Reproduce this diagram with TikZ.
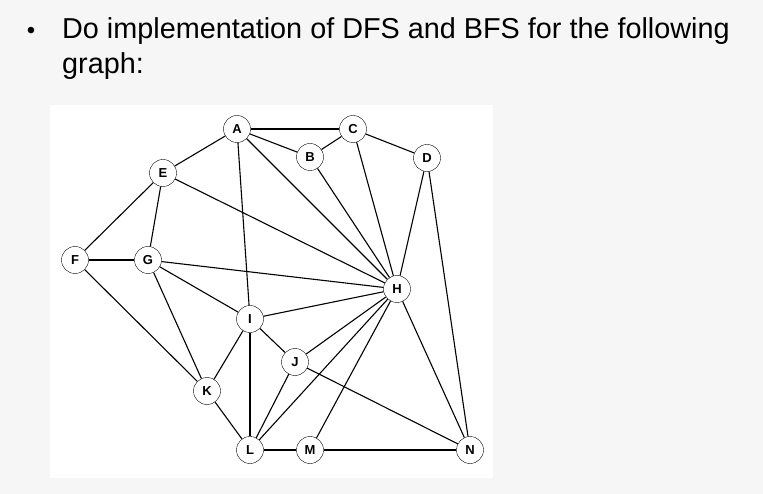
\documentclass[tikz,border=0pt]{standalone}
\usepackage{fontspec}
\setmainfont{Liberation Sans}
\usepackage{tikz}
\tikzset{vertex/.style={draw,circle,fill=white,inner sep=0pt,minimum size=27pt,font=\fontsize{13}{14}\selectfont\bfseries}}

\begin{document}
\begin{tikzpicture}[x=1pt,y=-1pt]
	% Background and white panel:
	\fill[gray!7] (0,0) rectangle (763,494);
	\useasboundingbox (0,0) rectangle (763,494);
	\fill[white] (50,105) rectangle (493,478);
	
	% Heading:
	\node (bullet) at (31,33) {\fontsize{24}{28}\selectfont •};
	\node[anchor=west,align=left,inner sep=0pt,font=\fontsize{28.8}{35}\selectfont] (title) at (62,49)
	{Do implementation of DFS and BFS for the following\\graph:};
	
	% Vertices:
	\node[vertex] (A) at (237,129) {A};
	\node[vertex] (B) at (310,157) {B};
	\node[vertex] (C) at (353,129) {C};
	\node[vertex] (D) at (427,158) {D};
	\node[vertex] (E) at (163,173) {E};
	\node[vertex] (F) at (75,260) {F};
	\node[vertex] (G) at (148,260) {G};
	\node[vertex] (H) at (397,289) {H};
	\node[vertex] (I) at (250,319) {I};
	\node[vertex] (J) at (295,362) {J};
	\node[vertex] (K) at (207,391) {K};
	\node[vertex] (L) at (250,450) {L};
	\node[vertex] (M) at (310,450) {M};
	\node[vertex] (N) at (470,450) {N};
	
	% Edges:
	\foreach \a/\b in {A/C,A/B,A/E,A/H,A/I,B/C,B/H,C/D,C/H,D/H,D/N,E/F,E/G,E/H,F/G,F/K,
		G/H,G/I,G/K,H/I,H/J,H/L,H/M,H/N,I/J,I/K,I/L,J/L,J/N,K/L,L/M,M/N}
	{
		\draw[line width=1.1pt] (\a) -- (\b);
	}
\end{tikzpicture}
\end{document}
